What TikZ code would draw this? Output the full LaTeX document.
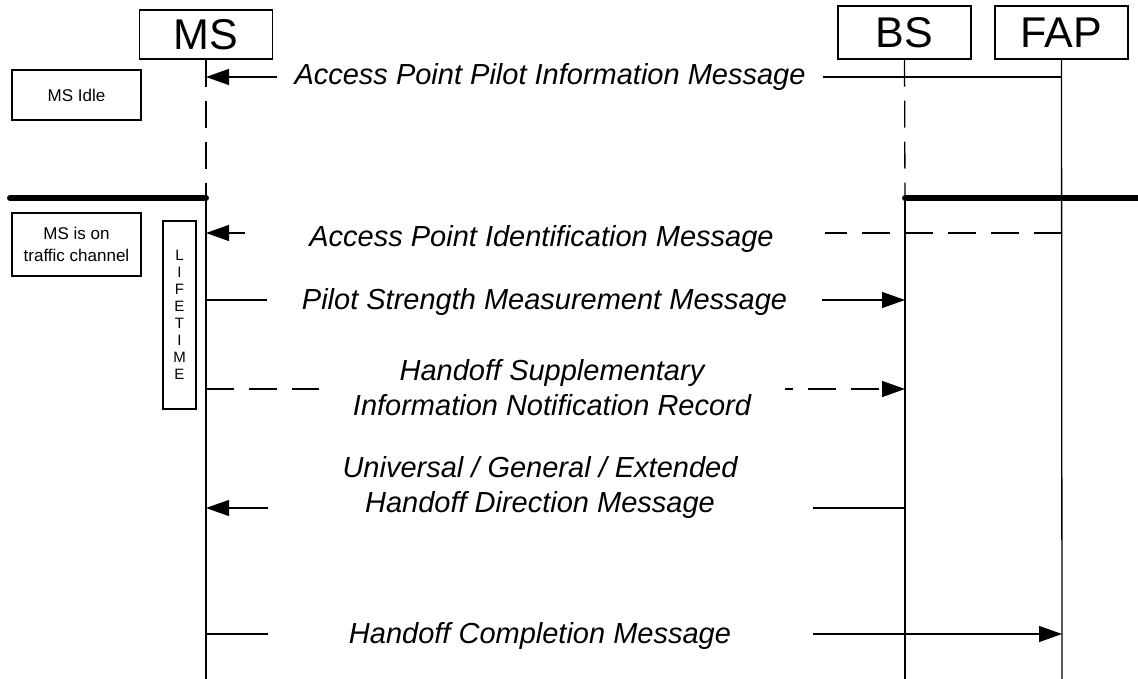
\documentclass[tikz,border=0pt]{standalone}
\usepackage{fontspec}
\setmainfont{Liberation Sans}
\usetikzlibrary{arrows.meta}
\begin{document}
\begin{tikzpicture}[x=1pt,y=-1pt,
  line width=1.3pt,
  actor/.style={draw, line width=1.3pt, minimum width=133pt, inner sep=0pt, font=\fontsize{43}{43}\selectfont},
  note/.style={draw, line width=1.3pt, inner sep=0pt, align=center, minimum width=129pt, font=\fontsize{17}{22}\selectfont},
  msg/.style={line width=1.3pt, -{Triangle[length=23pt,width=16pt]}},
  dmsg/.style={msg, dash pattern=on 28pt off 15pt},
  lifedash/.style={line width=1.3pt, dash pattern=on 27pt off 14pt},
  bar/.style={line width=6pt, line cap=round},
  lbl/.style={fill=white, inner sep=0pt, align=center, font=\fontsize{29}{35}\selectfont\itshape},
]
\useasboundingbox (0,0) rectangle (1138,679);

% actors
\node[actor, minimum height=49pt] (MS) at (206,34.5) {MS};
\node[actor, minimum height=53pt] (BS) at (904.5,32.5) {BS};
\node[actor, minimum height=53pt] (FAP) at (1061.5,32.5) {FAP};

% lifeline coordinates
\coordinate (msbar) at (206,198);
\coordinate (bsbar) at (905,198);
\coordinate (msbot) at (206,679);
\coordinate (bsbot) at (905,679);
\coordinate (fapbot) at (1062,679);
\coordinate (lbarend) at (10,198);
\coordinate (rbarend) at (1150,198);

% lifelines
\draw[lifedash] (MS.south) -- (msbar);
\draw (msbar) -- (msbot);
\draw[lifedash] (BS.south) -- (bsbar);
\draw (bsbar) -- (bsbot);
\draw (FAP.south) -- (fapbot);

% state change bars
\draw[bar] (lbarend) -- (msbar);
\draw[bar] (bsbar) -- (rbarend);

% notes
\node[note, minimum height=50pt] (idle) at (76.5,95) {MS Idle};
\node[note, minimum height=63pt] (traffic) at (76.5,244.5) {MS is on\\traffic channel};
\node[draw, line width=1.3pt, minimum width=33pt, minimum height=188pt, inner sep=0pt,
      align=center, font=\fontsize{15}{17}\selectfont] (life) at (179.5,315)
      {L\\I\\F\\E\\T\\I\\M\\E};

% message endpoints
\coordinate (fap1) at (1062,77);   \coordinate (ms1) at (206,77);
\coordinate (fap2) at (1062,233);  \coordinate (ms2) at (206,233);
\coordinate (ms3) at (206,300);    \coordinate (bs3) at (905,300);
\coordinate (ms4) at (206,389);    \coordinate (bs4) at (905,389);
\coordinate (bs5) at (905,508);    \coordinate (ms5) at (206,508);
\coordinate (ms6) at (206,634);    \coordinate (fap6) at (1062,634);

% messages
\draw[msg] (fap1) -- (ms1);
\node[lbl, minimum width=546pt] (m1) at (550,77) {Access Point Pilot Information Message};

\draw[dmsg] (fap2) -- (ms2);
\node[lbl, minimum width=566pt] (m2) at (541.5,239) {Access Point Identification Message};

\draw[msg] (ms3) -- (bs3);
\node[lbl, minimum width=555pt] (m3) at (544.5,302) {Pilot Strength Measurement Message};

\draw[dmsg] (ms4) -- (bs4);
\node[lbl, minimum width=466pt] (m4) at (552,388) {Handoff Supplementary\\Information Notification Record};

\draw[msg] (bs5) -- (ms5);
\node[lbl, minimum width=545pt] (m5) at (540,487) {Universal / General / Extended\\Handoff Direction Message};

\draw[msg] (ms6) -- (fap6);
\node[lbl, minimum width=545pt] (m6) at (540,636) {Handoff Completion Message};
\end{tikzpicture}
\end{document}
